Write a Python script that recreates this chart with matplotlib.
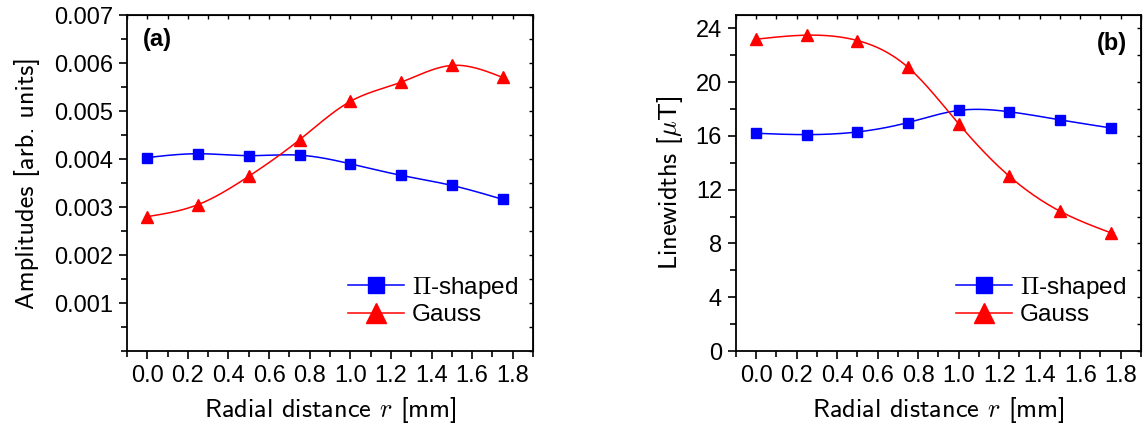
import numpy as np
import matplotlib
matplotlib.use('Agg')
import matplotlib.pyplot as plt
from matplotlib.ticker import MultipleLocator, FixedLocator

# data
r = [0.0, 0.25, 0.5, 0.75, 1.0, 1.25, 1.5, 1.75]
amp_pi    = [0.00403, 0.00411, 0.00407, 0.00408, 0.00390, 0.00366, 0.00345, 0.00316]
amp_gauss = [0.00280, 0.00305, 0.00364, 0.00440, 0.00520, 0.00560, 0.00595, 0.00570]
lw_pi     = [16.2, 16.1, 16.3, 17.0, 17.9, 17.8, 17.2, 16.6]
lw_gauss  = [23.2, 23.5, 23.1, 21.1, 16.9, 13.0, 10.4, 8.8]

plt.rcParams['mathtext.fontset'] = 'cm'
plt.rcParams['font.family'] = ['Liberation Sans', 'DejaVu Sans']


def spline(x, y, n=200):
    # natural cubic spline through the points, like Origin's spline connect
    x = np.asarray(x, float)
    y = np.asarray(y, float)
    k = len(x)
    h = np.diff(x)
    A = np.zeros((k, k))
    b = np.zeros(k)
    A[0, 0] = A[-1, -1] = 1
    for i in range(1, k - 1):
        A[i, i-1] = h[i-1]
        A[i, i] = 2*(h[i-1] + h[i])
        A[i, i+1] = h[i]
        b[i] = 6*((y[i+1]-y[i])/h[i] - (y[i]-y[i-1])/h[i-1])
    M = np.linalg.solve(A, b)
    xs = np.linspace(x[0], x[-1], n)
    j = np.clip(np.searchsorted(x, xs) - 1, 0, k - 2)
    t1 = x[j+1] - xs
    t0 = xs - x[j]
    ys = (M[j]*t1**3 + M[j+1]*t0**3)/(6*h[j]) \
        + (y[j]/h[j] - M[j]*h[j]/6)*t1 + (y[j+1]/h[j] - M[j+1]*h[j]/6)*t0
    return xs, ys


def style(ax):
    ax.set_xlim(-0.1, 1.9)
    ax.xaxis.set_major_locator(FixedLocator(np.arange(0, 1.81, 0.2)))
    ax.xaxis.set_minor_locator(FixedLocator(np.arange(-0.1, 1.91, 0.1)))
    ax.xaxis.set_major_formatter(matplotlib.ticker.FormatStrFormatter('%.1f'))
    ax.tick_params(which='both', direction='out', width=1.2, labelsize=17, top=False, right=False)
    ax.tick_params(which='major', length=6, pad=4)
    ax.tick_params(which='minor', length=4)
    for s in ax.spines.values():
        s.set_linewidth(1.3)
    # inward ticks on top/right
    sec = ax.secondary_xaxis('top')
    sec.set_xticks(np.arange(-0.1, 1.91, 0.1))
    sec.tick_params(direction='in', length=3, width=1.0, labeltop=False)
    sec2 = ax.secondary_yaxis('right')
    sec2.tick_params(direction='in', length=3, width=1.0, labelright=False)
    ax.set_xlabel('Radial distance $r$ [mm]', family='cmss10', fontsize=19, labelpad=6)
    return sec2


def draw(ax, y1, y2):
    xs, ys = spline(r, y1)
    ax.plot(xs, ys, color='blue', lw=1.1)
    ax.plot(r, y1, ls='none', marker='s', ms=7, color='blue')
    xs, ys = spline(r, y2)
    ax.plot(xs, ys, color='red', lw=1.1)
    ax.plot(r, y2, ls='none', marker='^', ms=8.5, color='red')
    ax.plot([], [], color='blue', lw=1.1, marker='s', ms=12, label='$\\Pi$-shaped')
    ax.plot([], [], color='red', lw=1.1, marker='^', ms=14, label='Gauss')


fig = plt.figure(figsize=(11.48, 4.30), dpi=100)
ax1 = fig.add_axes([0.1106, 0.1837, 0.3537, 0.7814])
ax2 = fig.add_axes([0.6411, 0.1837, 0.3528, 0.7814])

draw(ax1, amp_pi, amp_gauss)
s = style(ax1)
ax1.set_ylim(0, 0.007)
ax1.yaxis.set_major_locator(FixedLocator(np.arange(0.001, 0.0071, 0.001)))
ax1.yaxis.set_minor_locator(MultipleLocator(0.0005))
ax1.yaxis.set_major_formatter(matplotlib.ticker.FormatStrFormatter('%.3f'))
s.set_yticks(np.arange(0, 0.0071, 0.0005))
ax1.set_ylabel('Amplitudes [arb. units]', family='cmss10', fontsize=19, labelpad=10)
ax1.text(0.04, 0.96, '(a)', transform=ax1.transAxes, fontsize=17, fontweight='bold', va='top')
ax1.legend(loc='lower right', bbox_to_anchor=(1.0, 0.03), frameon=False, fontsize=17.5,
           handlelength=2.3, handletextpad=0.35, labelspacing=0.15, borderaxespad=0.2)

draw(ax2, lw_pi, lw_gauss)
s = style(ax2)
ax2.set_ylim(0, 25)
ax2.yaxis.set_major_locator(FixedLocator(np.arange(0, 24.1, 4)))
ax2.yaxis.set_minor_locator(MultipleLocator(2))
s.set_yticks(np.arange(0, 25, 2))
ax2.set_ylabel('Linewidths [$\\mu$T]', family='cmss10', fontsize=19, labelpad=8)
ax2.text(0.965, 0.95, '(b)', transform=ax2.transAxes, fontsize=17, fontweight='bold', va='top', ha='right')
ax2.legend(loc='lower right', bbox_to_anchor=(1.0, 0.03), frameon=False, fontsize=17.5,
           handlelength=2.3, handletextpad=0.35, labelspacing=0.15, borderaxespad=0.2)

fig.savefig('out.png', dpi=100)
